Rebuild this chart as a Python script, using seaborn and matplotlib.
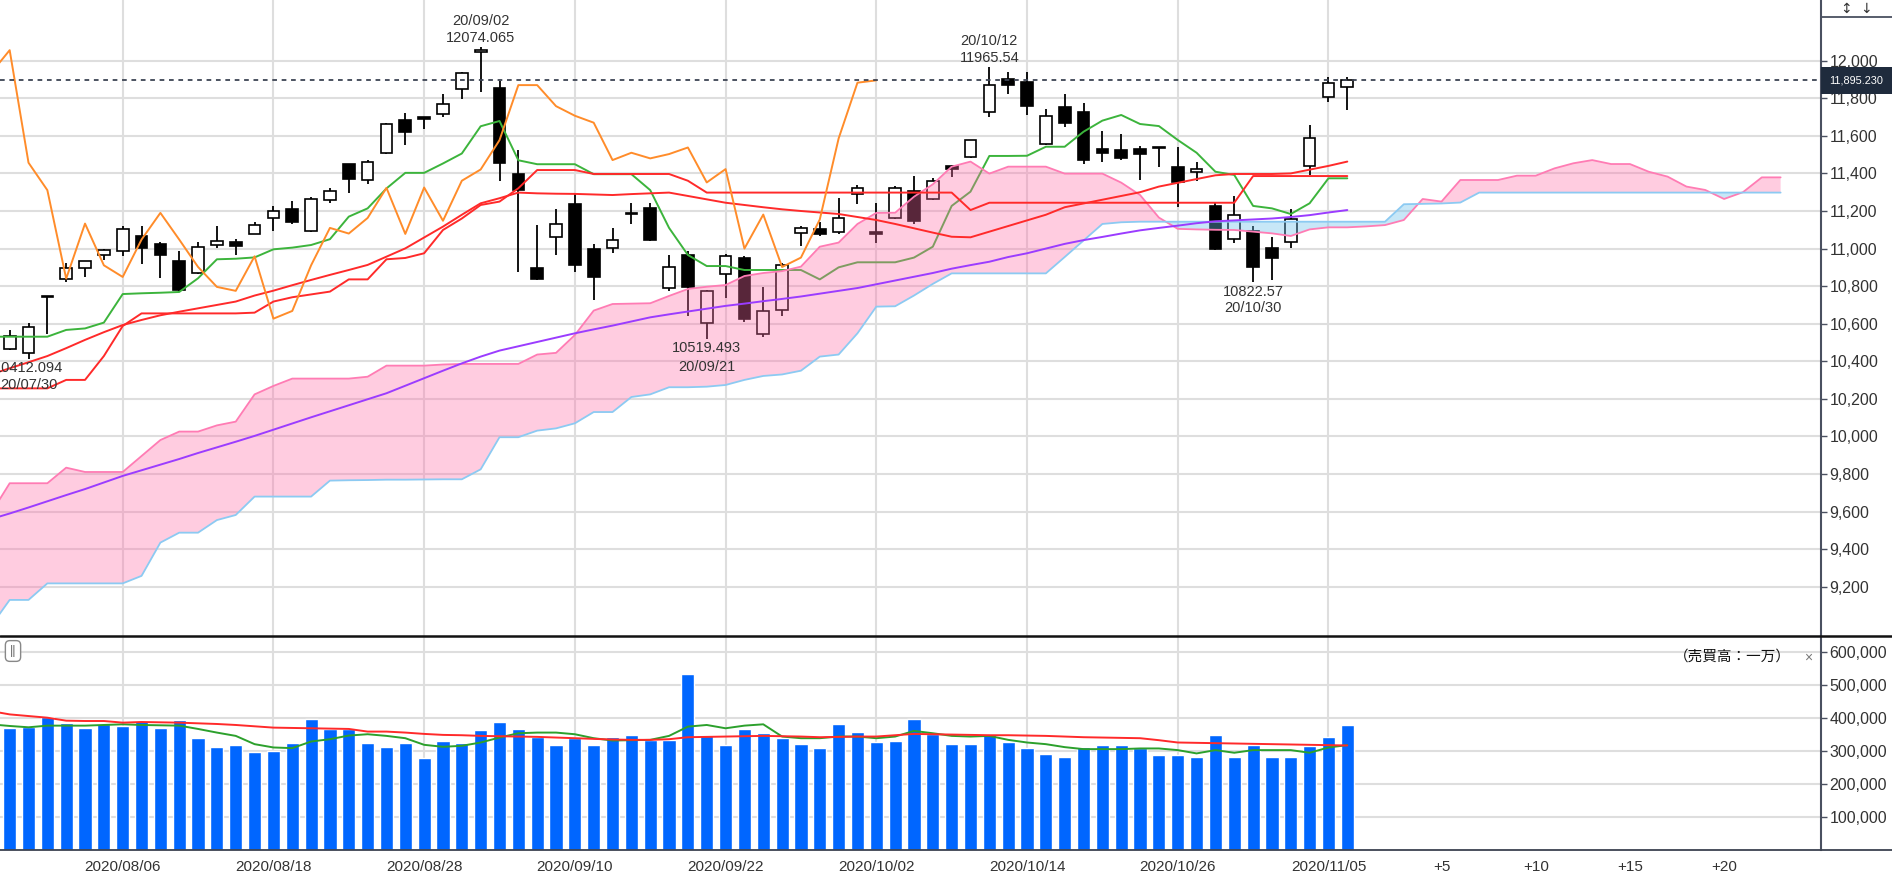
import numpy as np
import matplotlib
matplotlib.use("Agg")
import matplotlib.pyplot as plt
from matplotlib.patches import Rectangle
from matplotlib.lines import Line2D
import seaborn as sns

# trading days (NASDAQ composite, daily)
dates = ["2020/07/29", "2020/07/30", "2020/07/31",
         "2020/08/03", "2020/08/04", "2020/08/05", "2020/08/06", "2020/08/07", "2020/08/10",
         "2020/08/11", "2020/08/12", "2020/08/13", "2020/08/14", "2020/08/17", "2020/08/18",
         "2020/08/19", "2020/08/20", "2020/08/21", "2020/08/24", "2020/08/25", "2020/08/26",
         "2020/08/27", "2020/08/28", "2020/08/31",
         "2020/09/01", "2020/09/02", "2020/09/03", "2020/09/04", "2020/09/08", "2020/09/09",
         "2020/09/10", "2020/09/11", "2020/09/14", "2020/09/15", "2020/09/16", "2020/09/17",
         "2020/09/18", "2020/09/21", "2020/09/22", "2020/09/23", "2020/09/24", "2020/09/25",
         "2020/09/28", "2020/09/29", "2020/09/30",
         "2020/10/01", "2020/10/02", "2020/10/05", "2020/10/06", "2020/10/07", "2020/10/08",
         "2020/10/09", "2020/10/12", "2020/10/13", "2020/10/14", "2020/10/15", "2020/10/16",
         "2020/10/19", "2020/10/20", "2020/10/21", "2020/10/22", "2020/10/23", "2020/10/26",
         "2020/10/27", "2020/10/28", "2020/10/29", "2020/10/30",
         "2020/11/02", "2020/11/03", "2020/11/04", "2020/11/05", "2020/11/06"]

open_ = [10467, 10444, 10740, 10840, 10894, 10965, 10988, 11066, 11027, 10934,
         10872, 11018, 11036, 11080, 11165, 11210, 11094, 11258, 11448, 11364,
         11510, 11684, 11700, 11716, 11849, 12048, 11853, 11396, 10894, 11059,
         11235, 11000, 11004, 11186, 11217, 10791, 10965, 10604, 10863, 10952,
         10544, 10675, 11084, 11103, 11089, 11290, 11090, 11165, 11307, 11263,
         11441, 11489, 11728, 11900, 11888, 11556, 11755, 11725, 11528, 11524,
         11528, 11534, 11435, 11405, 11226, 11053, 11094, 11004, 11036, 11441,
         11808, 11861]
high_ = [10565, 10604, 10747, 10924, 10936, 11000, 11121, 11119, 11036, 10988,
         11036, 11119, 11053, 11142, 11226, 11254, 11275, 11320, 11452, 11471,
         11670, 11723, 11702, 11822, 11941, 12074, 11892, 11524, 11124, 11208,
         11293, 11023, 11107, 11243, 11240, 10968, 10985, 10782, 10973, 10959,
         10796, 10924, 11118, 11142, 11270, 11338, 11240, 11332, 11387, 11378,
         11445, 11580, 11965, 11941, 11941, 11741, 11822, 11773, 11625, 11609,
         11545, 11540, 11542, 11462, 11243, 11279, 11119, 11062, 11208, 11657,
         11915, 11911]
low_ = [10458, 10412, 10547, 10823, 10849, 10941, 10959, 10917, 10844, 10769,
        10867, 11005, 10965, 11075, 11094, 11130, 11089, 11243, 11297, 11343,
        11503, 11551, 11639, 11698, 11794, 11835, 11359, 10876, 10835, 10965,
        10876, 10728, 10979, 11130, 11041, 10776, 10640, 10519, 10739, 10609,
        10530, 10640, 11013, 11066, 11080, 11236, 11030, 11160, 11130, 11258,
        11382, 11480, 11702, 11822, 11710, 11551, 11648, 11449, 11462, 11474,
        11364, 11435, 11219, 11361, 10995, 11030, 10823, 10831, 11005, 11391,
        11782, 11737]
close_ = [10535, 10583, 10745, 10894, 10934, 10995, 11103, 11002, 10965, 10782,
          11009, 11041, 11013, 11124, 11201, 11142, 11263, 11307, 11370, 11462,
          11663, 11618, 11690, 11769, 11933, 12056, 11457, 11311, 10840, 11133,
          10911, 10849, 11048, 11190, 11048, 10902, 10796, 10775, 10959, 10627,
          10668, 10911, 11110, 11080, 11163, 11323, 11078, 11325, 11148, 11361,
          11421, 11577, 11870, 11870, 11758, 11707, 11670, 11471, 11510, 11480,
          11503, 11538, 11352, 11423, 11000, 11181, 10902, 10952, 11155, 11586,
          11883, 11895.23]

# indicator lines, read from index -1 to 71
tenkan = [10531, 10531, 10531, 10531, 10567, 10575, 10606, 10758, 10762, 10765,
          10769, 10842, 10943, 10946, 10953, 10996, 11005, 11019, 11050, 11170,
          11214, 11320, 11403, 11403, 11453, 11506, 11651, 11679, 11470, 11449,
          11449, 11449, 11396, 11396, 11396, 11311, 11110, 10966, 10907, 10907,
          10886, 10886, 10886, 10886, 10836, 10900, 10927, 10927, 10927, 10952,
          11010, 11227, 11303, 11493, 11493, 11494, 11542, 11542, 11622, 11681,
          11711, 11663, 11652, 11578, 11510, 11409, 11392, 11227, 11214, 11184,
          11241, 11374, 11374]
kijun = [10256, 10256, 10256, 10256, 10301, 10301, 10428, 10588, 10655, 10655,
         10655, 10655, 10655, 10655, 10659, 10718, 10741, 10756, 10771, 10836,
         10836, 10943, 10950, 10975, 11099, 11160, 11232, 11250, 11321, 11418,
         11418, 11418, 11397, 11397, 11397, 11397, 11397, 11361, 11298, 11298,
         11298, 11298, 11298, 11298, 11298, 11298, 11298, 11298, 11298, 11298,
         11298, 11298, 11205, 11244, 11244, 11244, 11244, 11244, 11244, 11244,
         11244, 11244, 11244, 11244, 11244, 11244, 11244, 11386, 11386, 11386,
         11386, 11386, 11386]
ma25 = [10330, 10363, 10395, 10428, 10470, 10514, 10555, 10593, 10620, 10645,
        10664, 10682, 10700, 10718, 10750, 10776, 10805, 10833, 10860, 10886,
        10913, 10957, 11001, 11059, 11117, 11180, 11241, 11268, 11298, 11294,
        11292, 11291, 11288, 11285, 11290, 11294, 11298, 11280, 11262, 11244,
        11232, 11220, 11209, 11200, 11192, 11184, 11168, 11152, 11131, 11108,
        11085, 11063, 11060, 11090, 11120, 11150, 11180, 11220, 11240, 11260,
        11280, 11300, 11330, 11350, 11370, 11390, 11397, 11397, 11397, 11400,
        11420, 11440, 11463]
ma75 = [9560, 9590, 9622, 9655, 9688, 9720, 9755, 9790, 9820, 9850,
        9880, 9912, 9942, 9972, 10003, 10036, 10069, 10102, 10134, 10166,
        10198, 10230, 10270, 10310, 10350, 10389, 10425, 10457, 10480, 10503,
        10526, 10549, 10570, 10590, 10612, 10634, 10650, 10665, 10680, 10695,
        10707, 10720, 10732, 10745, 10760, 10775, 10790, 10810, 10830, 10850,
        10870, 10893, 10912, 10930, 10955, 10975, 11000, 11025, 11045, 11062,
        11080, 11097, 11110, 11122, 11135, 11145, 11150, 11155, 11160, 11168,
        11178, 11192, 11205]

# cloud spans, index -1 to 94
span_a = [9590, 9751, 9751, 9751, 9834, 9811, 9811, 9811, 9896, 9981,
          10026, 10026, 10059, 10079, 10224, 10269, 10308, 10308, 10308, 10308,
          10318, 10377, 10377, 10377, 10383, 10386, 10386, 10386, 10386, 10436,
          10445, 10540, 10670, 10705, 10707, 10709, 10748, 10785, 10797, 10806,
          10854, 10870, 10880, 10904, 11010, 11032, 11131, 11190, 11191, 11276,
          11342, 11436, 11463, 11399, 11436, 11436, 11436, 11399, 11399, 11399,
          11351, 11285, 11165, 11105, 11102, 11100, 11099, 11090, 11081, 11067,
          11102, 11113, 11113, 11118, 11125, 11152, 11264, 11250, 11365, 11365,
          11365, 11388, 11388, 11427, 11454, 11471, 11450, 11450, 11409, 11383,
          11330, 11312, 11264, 11300, 11379, 11379]
span_b = [8990, 9130, 9130, 9218, 9218, 9218, 9218, 9218, 9258, 9435,
          9488, 9488, 9555, 9582, 9680, 9680, 9680, 9680, 9765, 9767,
          9768, 9770, 9770, 9771, 9772, 9772, 9825, 9996, 9996, 10031,
          10043, 10070, 10130, 10130, 10210, 10224, 10262, 10262, 10265, 10274,
          10301, 10322, 10330, 10350, 10425, 10436, 10549, 10691, 10693, 10750,
          10812, 10868, 10868, 10868, 10868, 10868, 10868, 10955, 11043, 11131,
          11140, 11143, 11143, 11143, 11143, 11143, 11143, 11143, 11143, 11143,
          11143, 11143, 11143, 11143, 11143, 11236, 11238, 11240, 11245, 11298,
          11298, 11298, 11298, 11298, 11298, 11298, 11298, 11298, 11298, 11298,
          11298, 11298, 11298, 11298, 11298, 11298]

volume = [369900, 370900, 401200, 383000, 369900, 380000, 375000, 390000, 369900, 393000,
          339700, 312500, 317500, 295300, 300400, 322600, 395100, 365900, 365900, 322600,
          312500, 322600, 279200, 330600, 322600, 362900, 388000, 365900, 342700, 317500,
          337700, 317500, 342700, 347800, 332600, 332600, 531200, 347800, 317500, 364900,
          354800, 339700, 321600, 308400, 382000, 355800, 325600, 330600, 395100, 349800,
          321600, 321600, 351800, 325600, 309500, 290300, 282200, 312500, 317500, 317500,
          307400, 286300, 286300, 282200, 347800, 282200, 317500, 282200, 282200, 314500,
          342700, 378000]
# volume averages, index -1 to 71
vol_ma_short = [380000, 375000, 371000, 376000, 376000, 376000, 378000, 380000, 378000, 377000,
                376000, 366000, 355000, 345000, 320000, 310000, 308000, 328000, 335000, 346000,
                350000, 345000, 338000, 318000, 312000, 315000, 325000, 340000, 353000, 355000,
                355000, 350000, 338000, 331000, 332000, 333000, 345000, 373000, 378000, 368000,
                376000, 380000, 343000, 338000, 338000, 343000, 343000, 338000, 343000, 360000,
                353000, 345000, 343000, 345000, 333000, 325000, 320000, 311000, 305000, 305000,
                305000, 307000, 307000, 302000, 292000, 302000, 294000, 302000, 302000, 302000,
                294000, 310000, 317000]
vol_ma_long = [420000, 410000, 405000, 400000, 391000, 390000, 390000, 385000, 387000, 386000,
               385000, 383000, 381000, 378000, 374000, 370000, 369000, 368000, 367000, 366000,
               358000, 358000, 355000, 351000, 348000, 347000, 345000, 344000, 343000, 342000,
               340000, 338000, 336000, 334000, 333000, 333000, 335000, 341000, 342000, 343000,
               344000, 345000, 344000, 343000, 341000, 342000, 343000, 343000, 347000, 351000,
               350000, 349000, 348000, 347000, 347000, 346000, 345000, 343000, 341000, 340000,
               339000, 338000, 332000, 325000, 324000, 323000, 322000, 321000, 320000, 319000,
               318000, 317000, 316000]

date_ticks = [6, 14, 22, 30, 38, 46, 54, 62, 70]
ahead_ticks = [5, 10, 15, 20]
price_ticks = list(range(9200, 12001, 200))
vol_ticks = [100000, 200000, 300000, 400000, 500000, 600000]

# ---------------------------------------------------------------
sns.set_style("white")
plt.rcParams['font.family'] = ['Liberation Sans', 'Noto Sans CJK JP', 'DejaVu Sans']

W, H = 1892, 875
AXR = 1821
GRID = '#dedede'
TXT = '#333333'
AXC = '#4a5060'

fig = plt.figure(figsize=(W / 100, H / 100), dpi=100)
ax = fig.add_axes([0, 1 - 636 / H, AXR / W, 636 / H])
axv = fig.add_axes([0, 1 - 850 / H, AXR / W, 214 / H], sharex=ax)

n = len(close_)
idx = np.arange(n)
o = np.array(open_, float)
c = np.array(close_, float)
hi = np.array(high_, float)
lo = np.array(low_, float)
lx = np.arange(-1, n)
sa = np.array(span_a, float)
sb = np.array(span_b, float)
cx = np.arange(-1, len(sa) - 1)

xmin = -0.513
xmax = 6 + (AXR - 122.7) / 18.84

# grid
for y in price_ticks:
    ax.axhline(y, color=GRID, lw=1.5, zorder=0)
for y in vol_ticks:
    axv.axhline(y, color=GRID, lw=1.5, zorder=0)
for xv in date_ticks:
    ax.axvline(xv, color=GRID, lw=1.5, zorder=0)
    axv.axvline(xv, color=GRID, lw=1.5, zorder=0)

# candles
up = c >= o
ax.vlines(idx, lo, hi, color='black', lw=1.3, zorder=2)
ax.bar(idx, np.maximum(np.abs(c - o), 5), bottom=np.minimum(o, c), width=0.62,
       color=np.where(up, 'white', 'black'), edgecolor='black', linewidth=1.2, zorder=2.2)

# conversion line under the cloud
sns.lineplot(x=lx, y=tenkan, ax=ax, color='#3cb43c', lw=1.4, zorder=2.5, legend=False)

# cloud
ax.fill_between(cx, sa, sb, where=sa >= sb, interpolate=True, color='#ff6ea8', alpha=0.35, lw=0, zorder=3)
ax.fill_between(cx, sa, sb, where=sa < sb, interpolate=True, color='#6ec0ec', alpha=0.38, lw=0, zorder=3)
sns.lineplot(x=cx, y=sa, ax=ax, color='#ff7cb4', lw=1.3, zorder=3.5, legend=False)
sns.lineplot(x=cx, y=sb, ax=ax, color='#8ccaf2', lw=1.3, zorder=3.5, legend=False)

sns.lineplot(x=lx, y=ma75, ax=ax, color='#9b3cff', lw=1.4, zorder=4, legend=False)
sns.lineplot(x=lx, y=ma25, ax=ax, color='#ff2a2a', lw=1.4, zorder=4, legend=False)
sns.lineplot(x=lx, y=kijun, ax=ax, color='#ff2a2a', lw=1.4, zorder=4, legend=False)

# lagging span: close drawn 25 bars back
sns.lineplot(x=np.arange(-1, n - 25), y=c[24:], ax=ax, color='#ff8c2a', lw=1.4, zorder=4.2, legend=False)

# last close
ax.axhline(c[-1], color='#3d4454', lw=1.3, ls=(0, (2.6, 2.6)), zorder=5)

# high / low annotations
ann = dict(ha='center', va='center', fontsize=10.5, color=TXT, zorder=6)
ax.text(25, 12213, dates[25][2:], **ann)
ax.text(25, 12122, f"{12074.065:.3f}", **ann)
ax.text(52, 12106, dates[52][2:], **ann)
ax.text(52, 12013, "11965.54", **ann)
ax.text(37, 10469, "10519.493", **ann)
ax.text(37, 10371, dates[37][2:], **ann)
ax.text(66, 10771, "10822.57", **ann)
ax.text(66, 10682, dates[66][2:], **ann)
ax.text(1, 10363, "10412.094", **ann)
ax.text(1, 10274, dates[1][2:], **ann)

# volume
sns.barplot(x=idx, y=volume, ax=axv, native_scale=True, color='#0066ff', width=0.7,
            saturation=1, errorbar=None, zorder=2)
sns.lineplot(x=lx, y=vol_ma_short, ax=axv, color='#2ca02c', lw=1.4, zorder=3, legend=False)
sns.lineplot(x=lx, y=vol_ma_long, ax=axv, color='#ff2a2a', lw=1.4, zorder=3, legend=False)

# axes
ax.set_xlim(xmin, xmax)
ax.set_ylim(8938, 12323)
axv.set_ylim(0, 647000)
for a in (ax, axv):
    a.set_xlabel("")
    a.set_ylabel("")
    for s in ('left', 'top', 'bottom'):
        a.spines[s].set_visible(False)
    a.spines['right'].set_color(AXC)
    a.spines['right'].set_linewidth(1.5)
    a.yaxis.tick_right()
    a.tick_params(axis='y', length=4, width=1, color=AXC, pad=2, labelsize=11.5, labelcolor=TXT)

ax.set_yticks(price_ticks)
ax.set_yticklabels([f"{v:,}" for v in price_ticks])
ax.tick_params(axis='x', bottom=False, labelbottom=False)

axv.set_yticks(vol_ticks)
axv.set_yticklabels([f"{v:,}" for v in vol_ticks])
xt = date_ticks + [n - 1 + k for k in ahead_ticks]
axv.set_xticks(xt)
axv.set_xticklabels([dates[i] for i in date_ticks] + [f"+{k}" for k in ahead_ticks])
axv.tick_params(axis='x', length=4, width=1, color=AXC, pad=3, labelsize=11, labelcolor=TXT)
axv.set_xlim(xmin, xmax)

# panel frame lines
fig.add_artist(Line2D([0, 1], [1 - 636 / H] * 2, color='#111111', lw=1.8))
fig.add_artist(Line2D([0, 1], [1 - 850 / H] * 2, color='#3c4250', lw=1.3))
fig.add_artist(Line2D([AXR / W, 1], [1 - 17 / H] * 2, color=AXC, lw=1.3))
fig.text(1846 / W, 1 - 9 / H, "↕", ha='center', va='center', fontsize=10, color='#333333',
         family=['DejaVu Sans'])
fig.text(1866 / W, 1 - 9 / H, "↓", ha='center', va='center', fontsize=10, color='#333333',
         family=['DejaVu Sans'])

# last price tag
tag_w = (W - AXR) / AXR
ax.add_patch(Rectangle((1.0, c[-1] - 72), tag_w, 144, transform=ax.get_yaxis_transform(),
                       facecolor='#1f2b3d', edgecolor='none', clip_on=False, zorder=10))
ax.text(1.0 + tag_w / 2, c[-1], f"{c[-1]:,.3f}", transform=ax.get_yaxis_transform(),
        ha='center', va='center', fontsize=7.8, color='white', clip_on=False, zorder=11)

# volume panel labels
fig.text(1732 / W, 1 - 657 / H, "（売買高：一万）", ha='center', va='center', fontsize=10.5,
         color='#111111', family=['Noto Sans CJK JP'])
fig.text(1808 / W, 1 - 658 / H, "×", ha='center', va='center', fontsize=10, color='#777777')
fig.text(13 / W, 1 - 651 / H, "||", ha='center', va='center', fontsize=9, color='#666666',
         bbox=dict(boxstyle='round,pad=0.35', fc='white', ec='#888888', lw=1))

fig.savefig("out.png", dpi=100)
